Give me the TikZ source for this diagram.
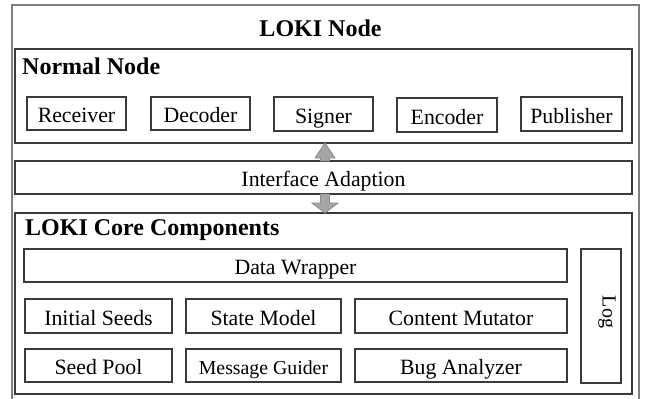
\documentclass[tikz,border=0pt]{standalone}
\usepackage{fontspec}
\setmainfont{Liberation Serif}
\definecolor{outerc}{HTML}{7F7F7F}
\definecolor{boxc}{HTML}{3A3A3A}
\definecolor{arrfill}{HTML}{A6A6A6}
\definecolor{arrdraw}{HTML}{8A8A8A}
\tikzset{
  box/.style={draw=boxc, line width=1.2pt, inner sep=0pt, text height=18.4pt, text depth=0pt, font=\fontsize{21.8}{24}\selectfont},
  title/.style={inner sep=0pt, anchor=base west, font=\fontsize{24}{28}\selectfont\bfseries},
  blockarrow/.style={fill=arrfill, draw=arrdraw, line width=0.8pt, line join=miter},
}
\begin{document}
\begin{tikzpicture}[x=1pt,y=-1pt]
\useasboundingbox (0,0) rectangle (651,399);
% outer
\node[draw=outerc, line width=2pt, minimum width=627pt, minimum height=397pt, inner sep=0pt] (outer) at (325.5,203.5) {};
\node[title, anchor=base] (lokinode) at (320.5,36.5) {LOKI Node};
% normal node
\node[box, minimum width=617pt, minimum height=94pt] (normal) at (323.5,96) {};
\node[title] (normaltitle) at (22,74) {Normal Node};
\node[box, minimum width=99pt, minimum height=33pt] (receiver) at (76.5,113.5) {Receiver};
\node[box, minimum width=99pt, minimum height=33pt] (decoder) at (200.5,113.5) {Decoder};
\node[box, minimum width=99pt, minimum height=34pt] (signer) at (323.5,114) {Signer};
\node[box, minimum width=100pt, minimum height=34pt] (encoder) at (447,115) {Encoder};
\node[box, minimum width=101pt, minimum height=34pt] (publisher) at (571.5,114) {Publisher};
% interface
\node[box, minimum width=617pt, minimum height=33pt] (iface) at (323.5,177.5) {Interface Adaption};
% core
\node[box, minimum width=617pt, minimum height=181pt] (core) at (323.5,303.5) {};
\node[title] (coretitle) at (25,235) {LOKI Core Components};
\node[box, minimum width=543pt, minimum height=33pt] (wrapper) at (295.5,265.5) {Data Wrapper};
\node[box, minimum width=147pt, minimum height=34pt] (seeds) at (98.5,316) {Initial Seeds};
\node[box, minimum width=155pt, minimum height=34pt] (state) at (263.5,316) {State Model};
\node[box, minimum width=212pt, minimum height=34pt] (mutator) at (461,316) {Content Mutator};
\node[box, minimum width=147pt, minimum height=33pt] (pool) at (98.5,365.5) {Seed Pool};
\node[box, minimum width=155pt, minimum height=33pt, font=\fontsize{19.8}{22}\selectfont] (guider) at (263.5,365.5) {Message Guider};
\node[box, minimum width=212pt, minimum height=33pt] (bug) at (461,365.5) {Bug Analyzer};
\node[box, minimum width=40pt, minimum height=134pt] (log) at (601,316) {};
\node[inner sep=0pt, rotate=-90, font=\fontsize{20}{22}\selectfont] (logtext) at (607,312) {Log};
% block arrows
\draw[blockarrow] (320.5,161) -- (320.5,158) -- (315,158) -- (325,143) -- (335,158) -- (329.5,158) -- (329.5,161) -- cycle;
\draw[blockarrow] (320.5,194) -- (320.5,203) -- (312,203) -- (325,213) -- (338,203) -- (329.5,203) -- (329.5,194) -- cycle;
\end{tikzpicture}
\end{document}
